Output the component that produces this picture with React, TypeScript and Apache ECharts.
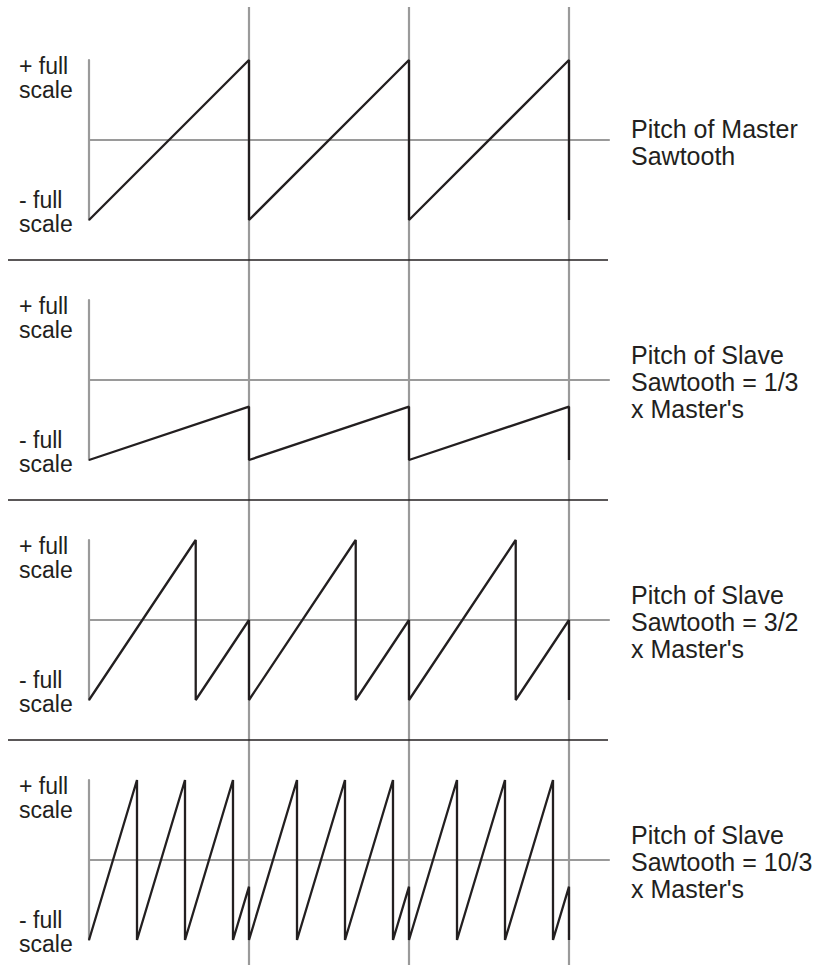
import React, { useEffect, useRef } from "react";
import * as echarts from "echarts";

// Sawtooth vertices: x in master periods, y in full-scale units (-1 .. +1)
const masterWave: number[][] = [
  [0, -1], [1, 1], [1, -1], [2, 1], [2, -1], [3, 1], [3, -1],
];
const slaveThird: number[][] = [
  [0, -1], [1, -0.333], [1, -1], [2, -0.333], [2, -1], [3, -0.333], [3, -1],
];
const slaveThreeHalves: number[][] = [
  [0, -1], [0.667, 1], [0.667, -1], [1, 0], [1, -1],
  [1.667, 1], [1.667, -1], [2, 0], [2, -1],
  [2.667, 1], [2.667, -1], [3, 0], [3, -1],
];
const slaveTenThirds: number[][] = [
  [0, -1], [0.3, 1], [0.3, -1], [0.6, 1], [0.6, -1], [0.9, 1], [0.9, -1], [1, -0.333], [1, -1],
  [1.3, 1], [1.3, -1], [1.6, 1], [1.6, -1], [1.9, 1], [1.9, -1], [2, -0.333], [2, -1],
  [2.3, 1], [2.3, -1], [2.6, 1], [2.6, -1], [2.9, 1], [2.9, -1], [3, -0.333], [3, -1],
];

const waves = [masterWave, slaveThird, slaveThreeHalves, slaveTenThirds];

const panelTitles: string[] = [
  "Pitch of Master\nSawtooth",
  "Pitch of Slave\nSawtooth = 1/3\nx Master's",
  "Pitch of Slave\nSawtooth = 3/2\nx Master's",
  "Pitch of Slave\nSawtooth = 10/3\nx Master's",
];
const topLabel = "+ full\nscale";
const bottomLabel = "- full\nscale";
const syncInterval = 1;

// layout
const W = 826;
const H = 965;
const GRID_LEFT = 89;
const GRID_WIDTH = 520;
const X_MAX = 3.25;
const FIRST_TOP = 60;
const PANEL_STEP = 240;
const PANEL_H = 160;
const GRAY = "#9a9a9a";
const INK = "#231f20";
const FONT = "'Liberation Sans', Arial, Helvetica, sans-serif";

export default function App() {
  const ref = useRef<HTMLDivElement>(null);

  useEffect(() => {
    if (!ref.current) return;
    const chart = echarts.init(ref.current, undefined, { renderer: "svg" });

    const grids: any[] = [];
    const xAxes: any[] = [];
    const yAxes: any[] = [];
    const series: any[] = [];
    const graphics: any[] = [];

    waves.forEach((wave, i) => {
      const top = FIRST_TOP + PANEL_STEP * i;
      grids.push({ left: GRID_LEFT, width: GRID_WIDTH, top, height: PANEL_H });
      xAxes.push({
        type: "value",
        gridIndex: i,
        min: 0,
        max: X_MAX,
        axisLine: { show: true, onZero: true, lineStyle: { color: GRAY, width: 2.2 } },
        axisTick: { show: false },
        axisLabel: { show: false },
        splitLine: { show: false },
      });
      yAxes.push({
        type: "value",
        gridIndex: i,
        min: -1,
        max: 1,
        axisLine: { show: true, lineStyle: { color: GRAY, width: 2.2 } },
        axisTick: { show: false },
        axisLabel: { show: false },
        splitLine: { show: false },
      });
      series.push({
        type: "line",
        xAxisIndex: i,
        yAxisIndex: i,
        data: wave,
        showSymbol: false,
        clip: false,
        z: 5,
        lineStyle: { color: INK, width: 2.3 },
      });

      // left scale labels
      graphics.push({
        type: "text",
        x: 19,
        y: top - 6,
        style: {
          text: topLabel,
          font: `23px ${FONT}`,
          fill: INK,
          lineHeight: 24,
          align: "left",
          verticalAlign: "top",
        },
      });
      graphics.push({
        type: "text",
        x: 19,
        y: top + PANEL_H + 16,
        style: {
          text: bottomLabel,
          font: `23px ${FONT}`,
          fill: INK,
          lineHeight: 24,
          align: "left",
          verticalAlign: "bottom",
        },
      });
      // right titles
      graphics.push({
        type: "text",
        x: 631,
        y: top + PANEL_H / 2 + 2,
        style: {
          text: panelTitles[i],
          font: `25px ${FONT}`,
          fill: INK,
          lineHeight: 27,
          align: "left",
          verticalAlign: "middle",
        },
      });
      // separators between panels
      if (i > 0) {
        const y = top - (PANEL_STEP - PANEL_H) / 2;
        graphics.push({
          type: "line",
          shape: { x1: 8, y1: y, x2: GRID_LEFT + GRID_WIDTH - 1, y2: y },
          style: { stroke: INK, lineWidth: 1.5 },
          z: 3,
        });
      }
    });

    // full-height grid for the master sync lines
    const fi = waves.length;
    grids.push({ left: GRID_LEFT, width: GRID_WIDTH, top: 7, bottom: 0 });
    xAxes.push({
      type: "value",
      gridIndex: fi,
      min: 0,
      max: X_MAX,
      interval: syncInterval,
      axisLine: { show: false },
      axisTick: { show: false },
      axisLabel: { show: false },
      splitLine: {
        show: true,
        showMinLine: false,
        showMaxLine: false,
        lineStyle: { color: GRAY, width: 2.2 },
      },
    });
    yAxes.push({
      type: "value",
      gridIndex: fi,
      min: 0,
      max: 1,
      show: false,
    });

    chart.setOption({
      animation: false,
      backgroundColor: "#ffffff",
      grid: grids,
      xAxis: xAxes,
      yAxis: yAxes,
      series,
      graphic: graphics,
    });

    return () => chart.dispose();
  }, []);

  return (
    <div
      ref={ref}
      style={{ position: "fixed", left: 0, top: 0, width: W, height: H }}
    />
  );
}
